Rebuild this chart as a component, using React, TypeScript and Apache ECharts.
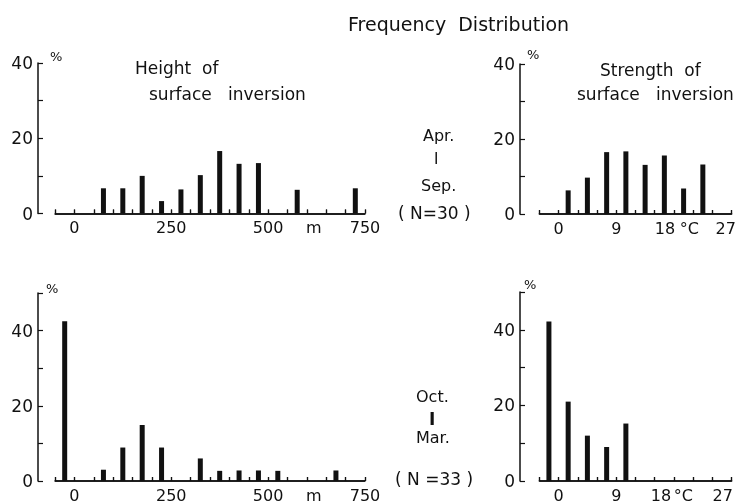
import React, { useEffect, useRef } from "react";
import * as echarts from "echarts";

// Height of surface inversion (m): bin centres and frequencies (%)
const heightCentersAprSep = [75, 125, 175, 225, 275, 325, 375, 425, 475, 575, 725];
const heightPctAprSep = [6.7, 6.7, 10, 3.3, 6.4, 10.2, 16.6, 13.2, 13.4, 6.3, 6.7];
const heightCentersOctMar = [-25, 75, 125, 175, 225, 325, 375, 425, 475, 525, 675];
const heightPctOctMar = [42.5, 3.0, 8.9, 14.9, 8.9, 6.0, 2.7, 2.8, 2.8, 2.7, 2.8];

// Strength of surface inversion (°C): bin centres and frequencies (%)
const strengthCentersAprSep = [1.5, 4.5, 7.5, 10.5, 13.5, 16.5, 19.5, 22.5];
const strengthPctAprSep = [6.3, 9.7, 16.5, 16.7, 13.1, 15.6, 6.8, 13.2];
const strengthCentersOctMar = [-1.5, 1.5, 4.5, 7.5, 10.5];
const strengthPctOctMar = [42.2, 21.0, 12.0, 9.0, 15.2];

// Axis ticks and tick labels
const heightTicks = [-50, 0, 50, 100, 150, 200, 250, 300, 350, 400, 450, 500, 550, 600, 650, 700, 750];
const strengthTicks = [-3, 0, 3, 6, 9, 12, 15, 18, 21, 24, 27];
const heightTickLabels: Record<number, string> = { 0: "0", 250: "250", 500: "500", 600: "{m|m}", 750: "750" };
const strengthTickLabelsTop: Record<number, string> = { 0: "0", 9: "9", 18: "{a|18}", 21: "{c|°C}", 27: "{b|27}" };
const strengthTickLabelsBottom: Record<number, string> = { 0: "0", 9: "9", 18: "{d|18}", 21: "{e|°C}", 27: "{f|27}" };

const FONT = "DejaVu Sans";
const INK = "#111";

export default function App() {
  const ref = useRef<HTMLDivElement>(null);
  useEffect(() => {
    if (!ref.current) return;
    const chart = echarts.init(ref.current, undefined, { renderer: "svg" });
    const labelStyle = { color: INK, fontFamily: FONT, fontSize: 16 };
    const rich = {
      m: { ...labelStyle, padding: [0, 0, 0, 14] },
      a: { ...labelStyle, padding: [0, 18, 0, 0] },
      b: { ...labelStyle, padding: [0, 12, 0, 0] },
      c: { ...labelStyle, padding: [0, 8, 0, 0] },
      d: { ...labelStyle, padding: [0, 26, 0, 0] },
      e: { ...labelStyle, padding: [0, 20, 0, 0] },
      f: { ...labelStyle, padding: [0, 18, 0, 0] },
    };
    const pick = (labels: Record<number, string>, v: number) => {
      const k = Math.round(v * 1000) / 1000;
      return labels[k] !== undefined ? labels[k] : "";
    };
    const xAxisBase = (gridIndex: number, min: number, max: number, interval: number, labels: Record<number, string>) => ({
      type: "value", gridIndex, position: "bottom", min, max, interval,
      axisLine: { show: true, onZero: false, lineStyle: { color: INK, width: 1.5 } },
      axisTick: { show: true, inside: true, length: 4, lineStyle: { color: INK, width: 1.2 } },
      axisLabel: { ...labelStyle, margin: 6, formatter: (v: number) => pick(labels, v), rich },
      splitLine: { show: false },
    });
    const yAxisBase = (gridIndex: number, max: number, offset: number) => ({
      type: "value", gridIndex, min: 0, max, interval: 10, offset,
      axisLine: { show: true, onZero: false, lineStyle: { color: INK, width: 1.5 } },
      axisTick: { show: true, inside: true, length: 5, lineStyle: { color: INK, width: 1.2 } },
      axisLabel: { ...labelStyle, fontSize: 17, margin: 5, formatter: (v: number) => (v % 20 === 0 ? String(v) : "") },
      splitLine: { show: false },
    });
    // baseline and small upward ticks drawn along the x axis through the axis scales
    const baseline = (ticks: number[]) => ({
      silent: true,
      symbol: ["none", "none"],
      label: { show: false },
      emphasis: { disabled: true },
      animation: false,
      lineStyle: { color: INK, width: 1.5, type: "solid", opacity: 1 },
      data: [
        [{ coord: [ticks[0], 0] }, { coord: [ticks[ticks.length - 1], 0] }],
        ...ticks.map((t) => [
          { coord: [t, 0], lineStyle: { color: INK, width: 1.2, type: "solid" } },
          { coord: [t, 1.05] },
        ]),
      ],
    });
    const bar = (idx: number, xs: number[], ys: number[], ticks: number[]) => ({
      type: "bar", xAxisIndex: idx, yAxisIndex: idx,
      data: xs.map((x, i) => [x, ys[i]]),
      barWidth: 5,
      itemStyle: { color: INK },
      markLine: baseline(ticks),
    });
    const label = (text: string, left: number, cy: number, fontSize = 17, fontWeight = "normal") => ({
      text, left, top: cy - (fontSize + 4) / 2, padding: 0,
      textStyle: { color: INK, fontFamily: FONT, fontSize, fontWeight, lineHeight: fontSize + 4 },
    });
    chart.setOption({
      animation: false,
      color: [INK],
      title: [
        label("Frequency  Distribution", 348, 24, 19),
        label("Height  of", 135, 68),
        label("surface   inversion", 149, 94),
        label("Strength  of", 600, 70),
        label("surface   inversion", 577, 94),
        label("Apr.", 423, 135, 16),
        label("I", 434, 159, 15),
        label("Sep.", 421, 185, 16),
        label("( N=30 )", 398, 213, 17),
        label("Oct.", 416, 396, 16),
        label("I", 429, 419, 17, "bold"),
        label("Mar.", 416, 437, 16),
        label("( N =33 )", 395, 479, 17),
        label("%", 50, 56, 13),
        label("%", 527, 54, 13),
        label("%", 46, 288, 13),
        label("%", 524, 284, 13),
      ],
      grid: [
        { left: 55, top: 63, width: 310, height: 150.5 },
        { left: 539.3, top: 64, width: 192.4, height: 150 },
        { left: 55, top: 293, width: 310, height: 190 },
        { left: 539.3, top: 292, width: 192.4, height: 191 },
      ],
      xAxis: [
        xAxisBase(0, -50, 750, 50, heightTickLabels),
        xAxisBase(1, -3, 27, 3, strengthTickLabelsTop),
        xAxisBase(2, -50, 750, 50, heightTickLabels),
        xAxisBase(3, -3, 27, 3, strengthTickLabelsBottom),
      ],
      yAxis: [
        yAxisBase(0, 40, 17),
        yAxisBase(1, 40, 19.3),
        yAxisBase(2, 50, 17),
        yAxisBase(3, 50, 19.3),
      ],
      series: [
        bar(0, heightCentersAprSep, heightPctAprSep, heightTicks),
        bar(1, strengthCentersAprSep, strengthPctAprSep, strengthTicks),
        bar(2, heightCentersOctMar, heightPctOctMar, heightTicks),
        bar(3, strengthCentersOctMar, strengthPctOctMar, strengthTicks),
      ],
    });
    return () => chart.dispose();
  }, []);
  return <div ref={ref} style={{ position: "fixed", left: 0, top: 0, width: 750, height: 503 }} />;
}
